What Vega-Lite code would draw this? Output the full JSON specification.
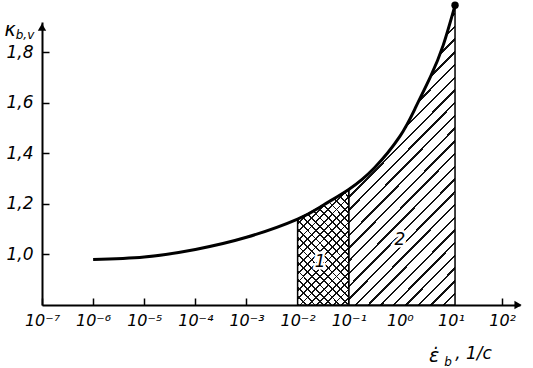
{
"$schema": "https://vega.github.io/schema/vega-lite/v6.json",
"autosize": {"type": "none"},
"width": 478, "height": 283,
"padding": {"left": 42, "top": 22, "right": 13, "bottom": 63},
"background": "white",
"config": {"view": {"stroke": null}, "font": "DejaVu Sans"},
"datasets": {
 "curve": [
  {"rate": 1e-6, "kbv": 0.98},
  {"rate": 1e-5, "kbv": 0.99},
  {"rate": 1e-4, "kbv": 1.02},
  {"rate": 1e-3, "kbv": 1.068},
  {"rate": 1e-2, "kbv": 1.14},
  {"rate": 0.0316, "kbv": 1.195},
  {"rate": 0.1, "kbv": 1.2575},
  {"rate": 0.316, "kbv": 1.3425},
  {"rate": 1, "kbv": 1.4675},
  {"rate": 2, "kbv": 1.579},
  {"rate": 4, "kbv": 1.705},
  {"rate": 7, "kbv": 1.8265},
  {"rate": 12, "kbv": 1.986}
 ],
 "notes": [
  {"rate": 0.0275, "kbv": 0.97, "t": "1"},
  {"rate": 1.0, "kbv": 1.057, "t": "2"}
 ]
},
"encoding": {
 "x": {"field": "rate", "type": "quantitative",
  "scale": {"type": "log", "domain": [1e-7, 223.9], "nice": false},
  "axis": {"values": [1e-7, 1e-6, 1e-5, 1e-4, 1e-3, 1e-2, 1e-1, 1, 10, 100],
   "labelExpr": "['10⁻⁷','10⁻⁶','10⁻⁵','10⁻⁴','10⁻³','10⁻²','10⁻¹','10⁰','10¹','10²'][round(log(datum.value)/LN10)+7]",
   "title": null, "grid": false, "domainColor": "#000", "domainWidth": 2,
   "tickColor": "#000", "tickWidth": 1.5, "tickSize": -7, "labelPadding": 14,
   "labelFontStyle": "italic", "labelFontSize": 16, "labelColor": "#000", "labelFlush": false, "labelOverlap": false}},
 "y": {"field": "kbv", "type": "quantitative",
  "scale": {"domain": [0.8, 1.92], "zero": false, "nice": false},
  "axis": {"values": [1.0, 1.2, 1.4, 1.6, 1.8],
   "labelExpr": "replace(format(datum.value, '.1f'), '.', ',')",
   "title": null, "grid": false, "domainColor": "#000", "domainWidth": 2,
   "tickColor": "#000", "tickWidth": 1.5, "tickSize": -7, "labelPadding": 16,
   "labelFontStyle": "italic", "labelFontSize": 17, "labelColor": "#000", "labelFlush": false, "labelOverlap": false}}
},
"layer": [
 {"data": {"name": "curve"}, "transform": [{"filter": "datum.rate >= 0.1"}],
  "mark": {"type": "area", "interpolate": "natural", "stroke": "#000", "strokeWidth": 1.5,
   "fill": {"gradient": "linear", "x1": 0, "y1": 0, "x2": 0.432, "y2": 1.204, "stops": [
{"offset":0,"color":"#111"},{"offset":0.006,"color":"#111"},{"offset":0.006,"color":"#fff"},{"offset":0.03125,"color":"#fff"},
{"offset":0.03125,"color":"#111"},{"offset":0.03725,"color":"#111"},{"offset":0.03725,"color":"#fff"},{"offset":0.0625,"color":"#fff"},
{"offset":0.0625,"color":"#111"},{"offset":0.0685,"color":"#111"},{"offset":0.0685,"color":"#fff"},{"offset":0.09375,"color":"#fff"},
{"offset":0.09375,"color":"#111"},{"offset":0.09975,"color":"#111"},{"offset":0.09975,"color":"#fff"},{"offset":0.125,"color":"#fff"},
{"offset":0.125,"color":"#111"},{"offset":0.131,"color":"#111"},{"offset":0.131,"color":"#fff"},{"offset":0.15625,"color":"#fff"},
{"offset":0.15625,"color":"#111"},{"offset":0.16225,"color":"#111"},{"offset":0.16225,"color":"#fff"},{"offset":0.1875,"color":"#fff"},
{"offset":0.1875,"color":"#111"},{"offset":0.1935,"color":"#111"},{"offset":0.1935,"color":"#fff"},{"offset":0.21875,"color":"#fff"},
{"offset":0.21875,"color":"#111"},{"offset":0.22475,"color":"#111"},{"offset":0.22475,"color":"#fff"},{"offset":0.25,"color":"#fff"},
{"offset":0.25,"color":"#111"},{"offset":0.256,"color":"#111"},{"offset":0.256,"color":"#fff"},{"offset":0.28125,"color":"#fff"},
{"offset":0.28125,"color":"#111"},{"offset":0.28725,"color":"#111"},{"offset":0.28725,"color":"#fff"},{"offset":0.3125,"color":"#fff"},
{"offset":0.3125,"color":"#111"},{"offset":0.3185,"color":"#111"},{"offset":0.3185,"color":"#fff"},{"offset":0.34375,"color":"#fff"},
{"offset":0.34375,"color":"#111"},{"offset":0.34975,"color":"#111"},{"offset":0.34975,"color":"#fff"},{"offset":0.375,"color":"#fff"},
{"offset":0.375,"color":"#111"},{"offset":0.381,"color":"#111"},{"offset":0.381,"color":"#fff"},{"offset":0.40625,"color":"#fff"},
{"offset":0.40625,"color":"#111"},{"offset":0.41225,"color":"#111"},{"offset":0.41225,"color":"#fff"},{"offset":0.4375,"color":"#fff"},
{"offset":0.4375,"color":"#111"},{"offset":0.4435,"color":"#111"},{"offset":0.4435,"color":"#fff"},{"offset":0.46875,"color":"#fff"},
{"offset":0.46875,"color":"#111"},{"offset":0.47475,"color":"#111"},{"offset":0.47475,"color":"#fff"},{"offset":0.5,"color":"#fff"},
{"offset":0.5,"color":"#111"},{"offset":0.506,"color":"#111"},{"offset":0.506,"color":"#fff"},{"offset":0.53125,"color":"#fff"},
{"offset":0.53125,"color":"#111"},{"offset":0.53725,"color":"#111"},{"offset":0.53725,"color":"#fff"},{"offset":0.5625,"color":"#fff"},
{"offset":0.5625,"color":"#111"},{"offset":0.5685,"color":"#111"},{"offset":0.5685,"color":"#fff"},{"offset":0.59375,"color":"#fff"},
{"offset":0.59375,"color":"#111"},{"offset":0.59975,"color":"#111"},{"offset":0.59975,"color":"#fff"},{"offset":0.625,"color":"#fff"},
{"offset":0.625,"color":"#111"},{"offset":0.631,"color":"#111"},{"offset":0.631,"color":"#fff"},{"offset":0.65625,"color":"#fff"},
{"offset":0.65625,"color":"#111"},{"offset":0.66225,"color":"#111"},{"offset":0.66225,"color":"#fff"},{"offset":0.6875,"color":"#fff"},
{"offset":0.6875,"color":"#111"},{"offset":0.6935,"color":"#111"},{"offset":0.6935,"color":"#fff"},{"offset":0.71875,"color":"#fff"},
{"offset":0.71875,"color":"#111"},{"offset":0.72475,"color":"#111"},{"offset":0.72475,"color":"#fff"},{"offset":0.75,"color":"#fff"},
{"offset":0.75,"color":"#111"},{"offset":0.756,"color":"#111"},{"offset":0.756,"color":"#fff"},{"offset":0.78125,"color":"#fff"},
{"offset":0.78125,"color":"#111"},{"offset":0.78725,"color":"#111"},{"offset":0.78725,"color":"#fff"},{"offset":0.8125,"color":"#fff"},
{"offset":0.8125,"color":"#111"},{"offset":0.8185,"color":"#111"},{"offset":0.8185,"color":"#fff"},{"offset":0.84375,"color":"#fff"},
{"offset":0.84375,"color":"#111"},{"offset":0.84975,"color":"#111"},{"offset":0.84975,"color":"#fff"},{"offset":0.875,"color":"#fff"},
{"offset":0.875,"color":"#111"},{"offset":0.881,"color":"#111"},{"offset":0.881,"color":"#fff"},{"offset":0.90625,"color":"#fff"},
{"offset":0.90625,"color":"#111"},{"offset":0.91225,"color":"#111"},{"offset":0.91225,"color":"#fff"},{"offset":0.9375,"color":"#fff"},
{"offset":0.9375,"color":"#111"},{"offset":0.9435,"color":"#111"},{"offset":0.9435,"color":"#fff"},{"offset":0.96875,"color":"#fff"},
{"offset":0.96875,"color":"#111"},{"offset":0.97475,"color":"#111"},{"offset":0.97475,"color":"#fff"},{"offset":1,"color":"#fff"}
   ]}},
  "encoding": {"y2": {"datum": 0.8}}},
 {"data": {"name": "curve"}, "transform": [{"filter": "datum.rate >= 0.01 && datum.rate <= 0.1"}],
  "mark": {"type": "area", "interpolate": "natural", "stroke": "#000", "strokeWidth": 1.5,
   "fill": {"gradient": "linear", "x1": 0, "y1": 0, "x2": 0.54, "y2": 1.206, "stops": [
{"offset":0,"color":"#111"},{"offset":0.011,"color":"#111"},{"offset":0.011,"color":"#fff"},{"offset":0.05,"color":"#fff"},
{"offset":0.05,"color":"#111"},{"offset":0.061,"color":"#111"},{"offset":0.061,"color":"#fff"},{"offset":0.1,"color":"#fff"},
{"offset":0.1,"color":"#111"},{"offset":0.111,"color":"#111"},{"offset":0.111,"color":"#fff"},{"offset":0.15,"color":"#fff"},
{"offset":0.15,"color":"#111"},{"offset":0.161,"color":"#111"},{"offset":0.161,"color":"#fff"},{"offset":0.2,"color":"#fff"},
{"offset":0.2,"color":"#111"},{"offset":0.211,"color":"#111"},{"offset":0.211,"color":"#fff"},{"offset":0.25,"color":"#fff"},
{"offset":0.25,"color":"#111"},{"offset":0.261,"color":"#111"},{"offset":0.261,"color":"#fff"},{"offset":0.3,"color":"#fff"},
{"offset":0.3,"color":"#111"},{"offset":0.311,"color":"#111"},{"offset":0.311,"color":"#fff"},{"offset":0.35,"color":"#fff"},
{"offset":0.35,"color":"#111"},{"offset":0.361,"color":"#111"},{"offset":0.361,"color":"#fff"},{"offset":0.4,"color":"#fff"},
{"offset":0.4,"color":"#111"},{"offset":0.411,"color":"#111"},{"offset":0.411,"color":"#fff"},{"offset":0.45,"color":"#fff"},
{"offset":0.45,"color":"#111"},{"offset":0.461,"color":"#111"},{"offset":0.461,"color":"#fff"},{"offset":0.5,"color":"#fff"},
{"offset":0.5,"color":"#111"},{"offset":0.511,"color":"#111"},{"offset":0.511,"color":"#fff"},{"offset":0.55,"color":"#fff"},
{"offset":0.55,"color":"#111"},{"offset":0.561,"color":"#111"},{"offset":0.561,"color":"#fff"},{"offset":0.6,"color":"#fff"},
{"offset":0.6,"color":"#111"},{"offset":0.611,"color":"#111"},{"offset":0.611,"color":"#fff"},{"offset":0.65,"color":"#fff"},
{"offset":0.65,"color":"#111"},{"offset":0.661,"color":"#111"},{"offset":0.661,"color":"#fff"},{"offset":0.7,"color":"#fff"},
{"offset":0.7,"color":"#111"},{"offset":0.711,"color":"#111"},{"offset":0.711,"color":"#fff"},{"offset":0.75,"color":"#fff"},
{"offset":0.75,"color":"#111"},{"offset":0.761,"color":"#111"},{"offset":0.761,"color":"#fff"},{"offset":0.8,"color":"#fff"},
{"offset":0.8,"color":"#111"},{"offset":0.811,"color":"#111"},{"offset":0.811,"color":"#fff"},{"offset":0.85,"color":"#fff"},
{"offset":0.85,"color":"#111"},{"offset":0.861,"color":"#111"},{"offset":0.861,"color":"#fff"},{"offset":0.9,"color":"#fff"},
{"offset":0.9,"color":"#111"},{"offset":0.911,"color":"#111"},{"offset":0.911,"color":"#fff"},{"offset":0.95,"color":"#fff"},
{"offset":0.95,"color":"#111"},{"offset":0.961,"color":"#111"},{"offset":0.961,"color":"#fff"},{"offset":1,"color":"#fff"}
   ]}},
  "encoding": {"y2": {"datum": 0.8}}},
 {"data": {"name": "curve"}, "transform": [{"filter": "datum.rate >= 0.01 && datum.rate <= 0.1"}],
  "mark": {"type": "area", "interpolate": "natural",
   "fill": {"gradient": "linear", "x1": 0, "y1": 1, "x2": 0.54, "y2": -0.206, "stops": [
{"offset":0,"color":"#111"},{"offset":0.011,"color":"#111"},{"offset":0.011,"color":"rgba(0,0,0,0)"},{"offset":0.05,"color":"rgba(0,0,0,0)"},
{"offset":0.05,"color":"#111"},{"offset":0.061,"color":"#111"},{"offset":0.061,"color":"rgba(0,0,0,0)"},{"offset":0.1,"color":"rgba(0,0,0,0)"},
{"offset":0.1,"color":"#111"},{"offset":0.111,"color":"#111"},{"offset":0.111,"color":"rgba(0,0,0,0)"},{"offset":0.15,"color":"rgba(0,0,0,0)"},
{"offset":0.15,"color":"#111"},{"offset":0.161,"color":"#111"},{"offset":0.161,"color":"rgba(0,0,0,0)"},{"offset":0.2,"color":"rgba(0,0,0,0)"},
{"offset":0.2,"color":"#111"},{"offset":0.211,"color":"#111"},{"offset":0.211,"color":"rgba(0,0,0,0)"},{"offset":0.25,"color":"rgba(0,0,0,0)"},
{"offset":0.25,"color":"#111"},{"offset":0.261,"color":"#111"},{"offset":0.261,"color":"rgba(0,0,0,0)"},{"offset":0.3,"color":"rgba(0,0,0,0)"},
{"offset":0.3,"color":"#111"},{"offset":0.311,"color":"#111"},{"offset":0.311,"color":"rgba(0,0,0,0)"},{"offset":0.35,"color":"rgba(0,0,0,0)"},
{"offset":0.35,"color":"#111"},{"offset":0.361,"color":"#111"},{"offset":0.361,"color":"rgba(0,0,0,0)"},{"offset":0.4,"color":"rgba(0,0,0,0)"},
{"offset":0.4,"color":"#111"},{"offset":0.411,"color":"#111"},{"offset":0.411,"color":"rgba(0,0,0,0)"},{"offset":0.45,"color":"rgba(0,0,0,0)"},
{"offset":0.45,"color":"#111"},{"offset":0.461,"color":"#111"},{"offset":0.461,"color":"rgba(0,0,0,0)"},{"offset":0.5,"color":"rgba(0,0,0,0)"},
{"offset":0.5,"color":"#111"},{"offset":0.511,"color":"#111"},{"offset":0.511,"color":"rgba(0,0,0,0)"},{"offset":0.55,"color":"rgba(0,0,0,0)"},
{"offset":0.55,"color":"#111"},{"offset":0.561,"color":"#111"},{"offset":0.561,"color":"rgba(0,0,0,0)"},{"offset":0.6,"color":"rgba(0,0,0,0)"},
{"offset":0.6,"color":"#111"},{"offset":0.611,"color":"#111"},{"offset":0.611,"color":"rgba(0,0,0,0)"},{"offset":0.65,"color":"rgba(0,0,0,0)"},
{"offset":0.65,"color":"#111"},{"offset":0.661,"color":"#111"},{"offset":0.661,"color":"rgba(0,0,0,0)"},{"offset":0.7,"color":"rgba(0,0,0,0)"},
{"offset":0.7,"color":"#111"},{"offset":0.711,"color":"#111"},{"offset":0.711,"color":"rgba(0,0,0,0)"},{"offset":0.75,"color":"rgba(0,0,0,0)"},
{"offset":0.75,"color":"#111"},{"offset":0.761,"color":"#111"},{"offset":0.761,"color":"rgba(0,0,0,0)"},{"offset":0.8,"color":"rgba(0,0,0,0)"},
{"offset":0.8,"color":"#111"},{"offset":0.811,"color":"#111"},{"offset":0.811,"color":"rgba(0,0,0,0)"},{"offset":0.85,"color":"rgba(0,0,0,0)"},
{"offset":0.85,"color":"#111"},{"offset":0.861,"color":"#111"},{"offset":0.861,"color":"rgba(0,0,0,0)"},{"offset":0.9,"color":"rgba(0,0,0,0)"},
{"offset":0.9,"color":"#111"},{"offset":0.911,"color":"#111"},{"offset":0.911,"color":"rgba(0,0,0,0)"},{"offset":0.95,"color":"rgba(0,0,0,0)"},
{"offset":0.95,"color":"#111"},{"offset":0.961,"color":"#111"},{"offset":0.961,"color":"rgba(0,0,0,0)"},{"offset":1,"color":"rgba(0,0,0,0)"}
   ]}},
  "encoding": {"y2": {"datum": 0.8}}},
 {"data": {"name": "curve"},
  "mark": {"type": "line", "interpolate": "natural", "color": "#000", "strokeWidth": 3}},
 {"data": {"name": "curve"}, "transform": [{"filter": "datum.rate == 12"}],
  "mark": {"type": "point", "filled": true, "color": "#000", "size": 55, "opacity": 1}},
 {"data": {"values": [{"rate": 205, "kbv": 0.8}]},
  "mark": {"type": "point", "shape": "triangle-right", "filled": true, "color": "#000", "size": 70, "opacity": 1}},
 {"data": {"values": [{"rate": 1e-7, "kbv": 1.9}]},
  "mark": {"type": "point", "shape": "triangle-up", "filled": true, "color": "#000", "size": 70, "opacity": 1}},
 {"data": {"name": "notes"},
  "mark": {"type": "text", "fontSize": 17, "fontStyle": "italic", "color": "#fff", "stroke": "#fff", "strokeWidth": 5},
  "encoding": {"text": {"field": "t"}}},
 {"data": {"name": "notes"},
  "mark": {"type": "text", "fontSize": 17, "fontStyle": "italic", "color": "#000"},
  "encoding": {"text": {"field": "t"}}},
 {"data": {"values": [{"rate": 2.37e-8, "kbv": 1.888, "t": "κ"}, {"rate": 4.69, "kbv": 0.597, "t": "ε̇"}]},
  "mark": {"type": "text", "fontSize": 19, "fontStyle": "italic", "color": "#000"},
  "encoding": {"text": {"field": "t"}}},
 {"data": {"values": [{"rate": 4.65e-8, "kbv": 1.868, "t": "b,v"}, {"rate": 8.81, "kbv": 0.573, "t": "b"}]},
  "mark": {"type": "text", "fontSize": 12, "fontStyle": "italic", "color": "#000"},
  "encoding": {"text": {"field": "t"}}},
 {"data": {"values": [{"rate": 12.08, "kbv": 0.605, "t": ", 1/с"}]},
  "mark": {"type": "text", "fontSize": 17, "fontStyle": "italic", "color": "#000", "align": "left"},
  "encoding": {"text": {"field": "t"}}}
]
}
